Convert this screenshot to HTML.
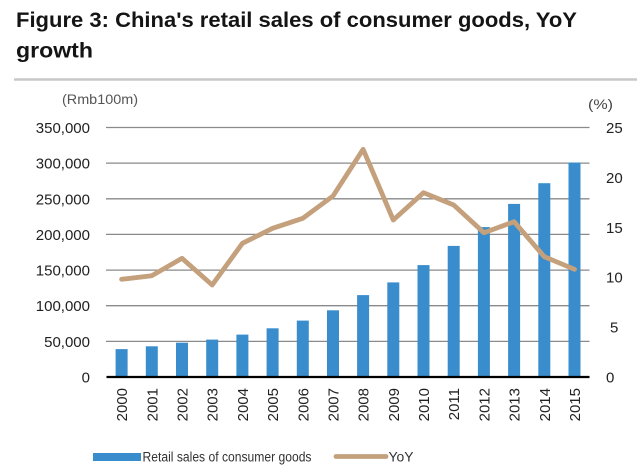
<!DOCTYPE html>
<html>
<head>
<meta charset="utf-8">
<style>
  html,body{margin:0;padding:0;background:#fff;}
  svg{display:block;}
  text{font-family:"Liberation Sans",sans-serif;}
</style>
</head>
<body>
<svg width="640" height="472" viewBox="0 0 640 472" xmlns="http://www.w3.org/2000/svg">
  <rect width="640" height="472" fill="#fff"/>
  <!-- Title -->
  <text x="16" y="27" font-size="21.5" font-weight="bold" fill="#141414" textLength="561" lengthAdjust="spacingAndGlyphs">Figure 3: China's retail sales of consumer goods, YoY</text>
  <text x="16" y="57.5" font-size="21.5" font-weight="bold" fill="#141414" textLength="77" lengthAdjust="spacingAndGlyphs">growth</text>
  <line x1="14" y1="79.5" x2="637" y2="79.5" stroke="#c8c8c8" stroke-width="2.5"/>

  <!-- axis titles -->
  <text x="62" y="104" font-size="14" fill="#555" textLength="76" lengthAdjust="spacingAndGlyphs">(Rmb100m)</text>
  <text x="588" y="109" font-size="14" fill="#444" textLength="25" lengthAdjust="spacingAndGlyphs">(%)</text>

  <!-- gridlines -->
  <g stroke="#8a8a8a" stroke-width="1.3">
    <line x1="106" y1="127.5" x2="589.5" y2="127.5"/>
    <line x1="106" y1="163.1" x2="589.5" y2="163.1"/>
    <line x1="106" y1="198.8" x2="589.5" y2="198.8"/>
    <line x1="106" y1="234.4" x2="589.5" y2="234.4"/>
    <line x1="106" y1="270.1" x2="589.5" y2="270.1"/>
    <line x1="106" y1="305.7" x2="589.5" y2="305.7"/>
    <line x1="106" y1="341.4" x2="589.5" y2="341.4"/>
  </g>

  <!-- left tick labels -->
  <g font-size="15" fill="#222" text-anchor="end">
    <text x="90" y="133">350,000</text>
    <text x="90" y="168.6">300,000</text>
    <text x="90" y="204.3">250,000</text>
    <text x="90" y="239.9">200,000</text>
    <text x="90" y="275.6">150,000</text>
    <text x="90" y="311.2">100,000</text>
    <text x="90" y="346.9">50,000</text>
    <text x="90" y="382.5">0</text>
  </g>
  <!-- right tick labels -->
  <g font-size="15" fill="#222">
    <text x="606" y="133">25</text>
    <text x="606" y="182.9">20</text>
    <text x="606" y="232.8">15</text>
    <text x="606" y="282.7">10</text>
    <text x="610" y="332.6">5</text>
    <text x="606" y="382.5">0</text>
  </g>

  <!-- bars -->
  <g fill="#3a8dcc">
    <rect x="115.6" y="349.1" width="12" height="27.9"/>
    <rect x="145.8" y="346.3" width="12" height="30.7"/>
    <rect x="176.0" y="342.7" width="12" height="34.3"/>
    <rect x="206.2" y="339.6" width="12" height="37.4"/>
    <rect x="236.4" y="334.6" width="12" height="42.4"/>
    <rect x="266.6" y="328.3" width="12" height="48.7"/>
    <rect x="296.8" y="320.6" width="12" height="56.4"/>
    <rect x="327.0" y="310.3" width="12" height="66.7"/>
    <rect x="357.1" y="295.1" width="12" height="81.9"/>
    <rect x="387.3" y="282.4" width="12" height="94.6"/>
    <rect x="417.5" y="265.1" width="12" height="111.9"/>
    <rect x="447.7" y="245.9" width="12" height="131.1"/>
    <rect x="477.9" y="227.1" width="12" height="149.9"/>
    <rect x="508.1" y="203.9" width="12" height="173.1"/>
    <rect x="538.3" y="183.2" width="12" height="193.8"/>
    <rect x="568.5" y="162.5" width="12" height="214.5"/>
  </g>

  <!-- x axis -->
  <line x1="106.5" y1="377" x2="589.5" y2="377" stroke="#000" stroke-width="2.2"/>

  <!-- YoY line -->
  <polyline fill="none" stroke="#c4a07c" stroke-width="4.8" stroke-linejoin="round" stroke-linecap="round"
    points="121.6,279.3 151.8,275.7 182.0,258.3 212.2,285 242.4,243.3 272.6,228.3 302.8,218.3 333.0,196 363.1,149.3 393.3,220 423.5,192.7 453.7,205 483.9,232.7 514.1,221.7 544.3,256.7 574.5,269.3"/>

  <!-- year labels -->
  <g font-size="15" fill="#222" text-anchor="end">
    <text transform="translate(127.1,388) rotate(-90)">2000</text>
    <text transform="translate(157.3,388) rotate(-90)">2001</text>
    <text transform="translate(187.5,388) rotate(-90)">2002</text>
    <text transform="translate(217.7,388) rotate(-90)">2003</text>
    <text transform="translate(247.9,388) rotate(-90)">2004</text>
    <text transform="translate(278.1,388) rotate(-90)">2005</text>
    <text transform="translate(308.3,388) rotate(-90)">2006</text>
    <text transform="translate(338.5,388) rotate(-90)">2007</text>
    <text transform="translate(368.6,388) rotate(-90)">2008</text>
    <text transform="translate(398.8,388) rotate(-90)">2009</text>
    <text transform="translate(429.0,388) rotate(-90)">2010</text>
    <text transform="translate(459.2,388) rotate(-90)">2011</text>
    <text transform="translate(489.4,388) rotate(-90)">2012</text>
    <text transform="translate(519.6,388) rotate(-90)">2013</text>
    <text transform="translate(549.8,388) rotate(-90)">2014</text>
    <text transform="translate(580.0,388) rotate(-90)">2015</text>
  </g>

  <!-- legend -->
  <rect x="93" y="453" width="48" height="8" fill="#3a8dcc"/>
  <text x="142.5" y="461.5" font-size="13.5" fill="#333" textLength="169" lengthAdjust="spacingAndGlyphs">Retail sales of consumer goods</text>
  <line x1="336" y1="456.5" x2="386" y2="456.5" stroke="#c4a07c" stroke-width="4.8" stroke-linecap="round"/>
  <text x="388.5" y="461.5" font-size="13.5" fill="#333" textLength="25" lengthAdjust="spacingAndGlyphs">YoY</text>
</svg>
</body>
</html>
